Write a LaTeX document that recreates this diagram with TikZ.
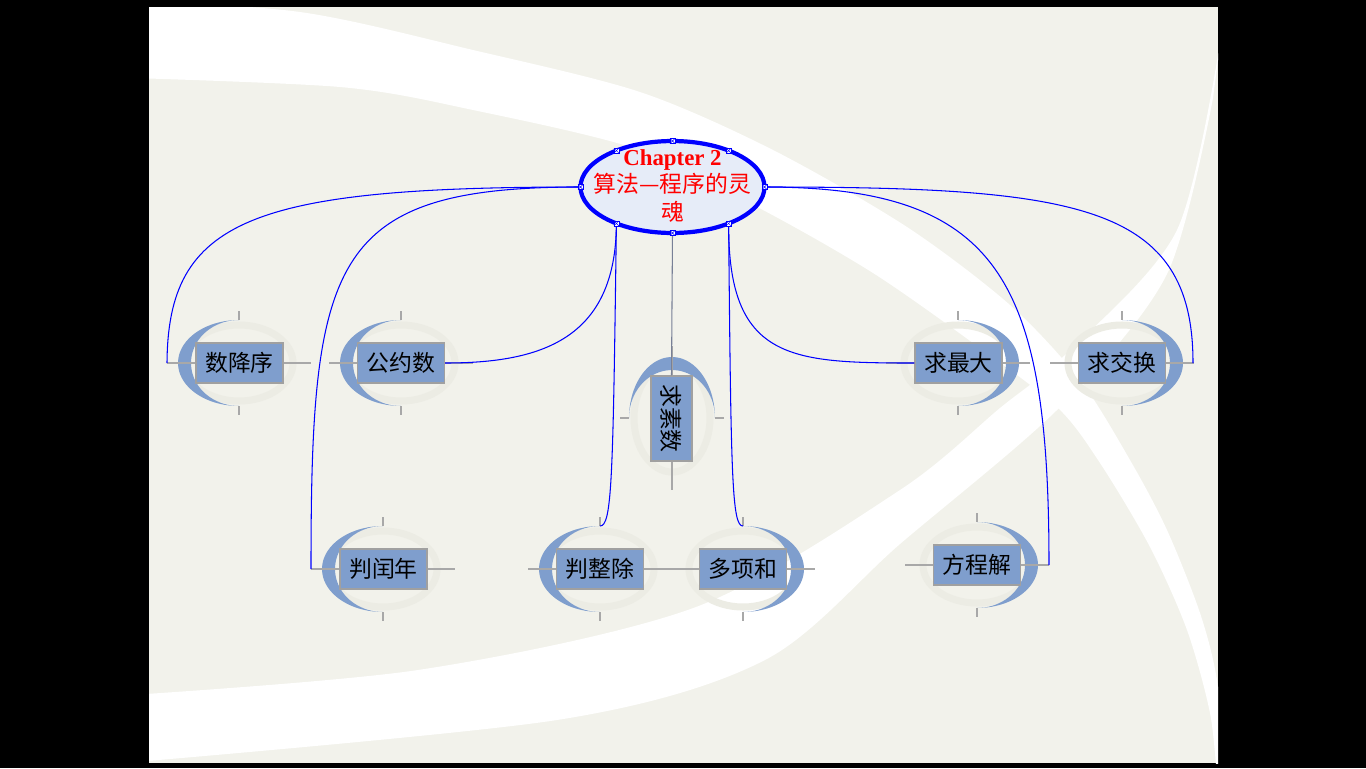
\documentclass[tikz,border=0pt]{standalone}
\usepackage{fontspec}
\setmainfont{Liberation Serif}
\newfontfamily\cjk{Noto Sans CJK SC}
\usetikzlibrary{shapes.geometric}

\definecolor{slidebg}{RGB}{242,242,235}
\definecolor{ringc}{RGB}{236,236,228}
\definecolor{nodeblue}{RGB}{127,158,205}
\definecolor{boxedge}{RGB}{160,160,160}
\definecolor{crossc}{RGB}{168,168,168}
\definecolor{ellfill}{RGB}{230,236,248}
\definecolor{stemc}{RGB}{120,128,150}

\newcommand\mmDecoH[3]{%
  \begin{scope}[shift={(#1,#2)}]
    \draw[ringline] (0,0) ellipse [x radius=54, y radius=38];
    \fill[cresc] plot[domain=90:270,samples=40] ({#3*61*cos(\x)},{43*sin(\x)})
      -- plot[domain=270:90,samples=40] ({#3*48*cos(\x)},{43*sin(\x)}) -- cycle;
    \draw[cross] (-72,0) -- (72,0) (0,-52) -- (0,-43) (0,43) -- (0,52);
  \end{scope}}
\newcommand\mmDecoV[2]{%
  \begin{scope}[shift={(#1,#2)}]
    \draw[ringline] (0,0) ellipse [x radius=38, y radius=54];
    \fill[cresc] plot[domain=0:180,samples=40] ({43*cos(\x)},{-61*sin(\x)})
      -- plot[domain=180:0,samples=40] ({43*cos(\x)},{-48*sin(\x)}) -- cycle;
    \draw[cross] (0,-72) -- (0,72) (-52,0) -- (-43,0) (43,0) -- (52,0);
  \end{scope}}

\tikzset{
  conn/.style={draw=blue, line width=0.6pt},
  stem/.style={draw=stemc, line width=0.6pt},
  ringline/.style={draw=ringc, line width=4pt},
  cresc/.style={fill=nodeblue},
  cross/.style={draw=crossc, line width=0.9pt},
  topic/.style={rectangle, fill=nodeblue, draw=boxedge, line width=0.8pt,
    minimum width=1.74cm, minimum height=0.8cm, inner sep=0pt,
    font=\cjk\fontsize{13pt}{15pt}\selectfont, text=black},
  mainell/.style={ellipse, fill=ellfill, draw=blue, line width=2.4pt,
    minimum width=3.68cm, minimum height=1.84cm, inner sep=0pt, outer sep=0pt},
  maintext/.style={align=center, text=red, inner sep=0pt,
    font=\fontsize{13pt}{15.6pt}\selectfont},
  handle/.style={fill=white, draw=blue, line width=0.35pt},
}

\begin{document}
\begin{tikzpicture}[x=0.02cm, y=-0.02cm]
\useasboundingbox (0,0) rectangle (1366,768);
\fill[black] (0,0) rectangle (1366,768);

% slide background with white swooshes
\begin{scope}
  \clip (149,7) rectangle (1218,763);
  \fill[slidebg] (149,7) rectangle (1218,763);
  \fill[white] plot[smooth] coordinates {(100,-2) (300,12) (473,50) (640,92) (773,150) (907,227) (1010,305) (1080,380) (1130,460) (1167,530) (1200,613) (1217,680) (1228,780)}
    -- plot[smooth] coordinates {(1217,780) (1210,713) (1187,630) (1150,547) (1100,463) (1057,407) (973,343) (873,273) (763,210) (640,150) (473,110) (340,87) (100,77)} -- cycle;
  \fill[white] plot[smooth] coordinates {(100,697) (418,670) (696,607) (900,490) (1000,408) (1067,353) (1177,230) (1222,30)}
    -- plot[smooth] coordinates {(1213,98) (1167,274) (1060,407) (900,544) (765,660) (557,720) (100,765)} -- cycle;
\end{scope}

% decorations around the topics
\mmDecoH{239}{363}{1}
\mmDecoH{401}{363}{1}
\mmDecoH{958}{363}{-1}
\mmDecoH{1122}{363}{-1}
\mmDecoV{672}{418}
\mmDecoH{383}{569}{1}
\mmDecoH{600}{569}{1}
\mmDecoH{743}{569}{-1}
\mmDecoH{977}{565}{-1}

% topic boxes
\node[topic] (n1) at (239.5,363) {数降序};
\node[topic] (n2) at (401,363) {公约数};
\node[topic] (n3) at (958.5,363) {求最大};
\node[topic] (n4) at (1122,363) {求交换};
\node[topic, rotate=-90, minimum width=1.7cm, minimum height=0.82cm] (n6) at (671.5,418.5) {求素数};
\node[topic] (n7) at (383.5,569) {判闰年};
\node[topic] (n8) at (600,569) {判整除};
\node[topic] (n9) at (743,569) {多项和};
\node[topic] (n10) at (977,565) {方程解};

% free ends of connectors
\coordinate (n1L) at (167,363);
\coordinate (n7L) at (311,569);
\coordinate (n4R) at (1193,363);
\coordinate (n10R) at (1049,565);
\coordinate (n8T) at (600,526);
\coordinate (n9T) at (743,526);

% central topic
\node[mainell] (c) at (672.5,187) {};
\node[maintext] (ct) at (672.5,186) {\textbf{Chapter 2}\\{\cjk 算法—程序的灵}\\{\cjk 魂}};

% connectors
\draw[conn] (c.west) .. controls (250,187) and (168,220) .. (n1L);
\draw[conn] (c.west) .. controls (330,187) and (311,260) .. (n7L);
\draw[conn] (c.213) .. controls (616,340) and (540,363) .. (n2.east);
\draw[conn] (c.213) .. controls (613,480) and (612,526) .. (n8T);
\draw[conn] (c.327) .. controls (728,360) and (790,363) .. (n3.west);
\draw[conn] (c.327) .. controls (731,480) and (732,526) .. (n9T);
\draw[conn] (c.east) .. controls (1080,187) and (1193,205) .. (n4R);
\draw[conn] (c.east) .. controls (1000,187) and (1049,280) .. (n10R);
\draw[stem] (c.south) -- (n6.west);

% selection handles on the ellipse
\foreach \a in {north,south,east,west,33,147,213,327}{
  \draw[handle] (c.\a) ++(-2.5,-2.5) rectangle ++(5,5);
  \draw[blue, line width=0.25pt] (c.\a) ++(-2.5,-2.5) -- ++(5,5) ++(-5,0) -- ++(5,-5);
}
\end{tikzpicture}
\end{document}
